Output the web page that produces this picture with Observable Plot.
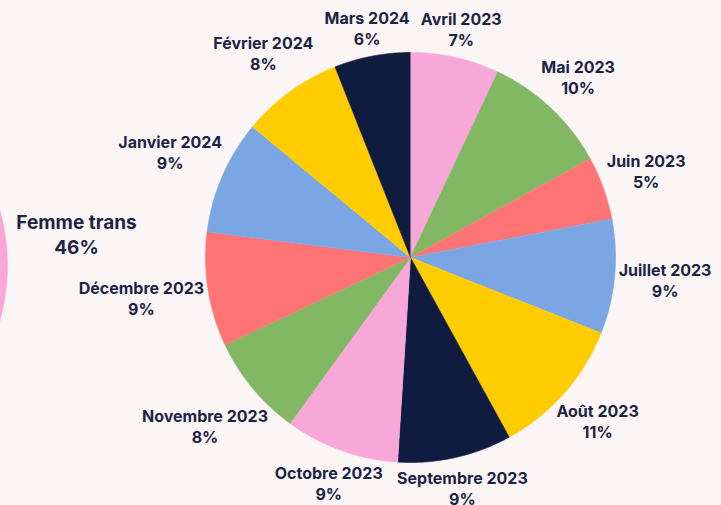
<!DOCTYPE html>
<html>
<head>
<meta charset="utf-8">
<script src="https://cdn.jsdelivr.net/npm/d3@7"></script>
<script src="https://cdn.jsdelivr.net/npm/@observablehq/plot@0.6"></script>
<style>
  html, body { margin: 0; padding: 0; background: #fcf5f5; }
  #chart { width: 721px; height: 505px; overflow: hidden; }
  svg { display: block; }
</style>
</head>
<body>
<div id="chart"></div>
<script>
// ---- data ----
const months = ["Avril 2023", "Mai 2023", "Juin 2023", "Juillet 2023", "Août 2023", "Septembre 2023",
                "Octobre 2023", "Novembre 2023", "Décembre 2023", "Janvier 2024", "Février 2024", "Mars 2024"];
const shares = [7, 10, 5, 9, 11, 9, 9, 8, 9, 9, 8, 6];
const sliceColors = ["#f7a8d8", "#82b763", "#ff7575", "#7ba6e4", "#ffcc00", "#0f1c3f",
                     "#f7a8d8", "#82b763", "#ff7575", "#7ba6e4", "#ffcc00", "#0f1c3f"];
const sideCategory = ["Femme trans"];
const sideShare = [46];
const sideColor = ["#f7a8d8"];

// ---- layout ----
const W = 721, H = 505;
const cx = 410, cy = 257, R = 205;
const textColor = "#1b2444";
const labelFont = "700 16px Inter";

const ctx = document.createElement("canvas").getContext("2d");
ctx.font = labelFont;
const textW = s => ctx.measureText(s).width;

// slices as polygons (center + sampled arc)
const total = d3.sum(shares);
const slicePts = [];
const labels = [];
let acc = 0;
months.forEach((m, i) => {
  const a0 = acc / total * 2 * Math.PI;
  acc += shares[i];
  const a1 = acc / total * 2 * Math.PI;
  slicePts.push({key: m, x: 0, y: 0});
  const n = Math.max(2, Math.ceil((a1 - a0) / (Math.PI / 360)));
  for (let k = 0; k <= n; k++) {
    const a = a0 + (a1 - a0) * k / n;
    slicePts.push({key: m, x: R * Math.sin(a), y: -R * Math.cos(a)});
  }
  const am = (a0 + a1) / 2;
  const s = Math.sin(am), c = Math.cos(am);
  const w = Math.max(textW(m), textW(shares[i] + "%")) / 2;
  const d = 208 + Math.abs(s) * w + Math.abs(c) * 16;
  labels.push({text: m + "\n" + shares[i] + "%", x: d * s, y: -d * c - 2});
});

// side pie (only its right edge shows)
const sideR = 205, sideCx = -198 - cx, sideCy = 8;
const sidePts = [];
for (let k = 0; k <= 720; k++) {
  const a = k / 720 * 2 * Math.PI;
  sidePts.push({key: sideCategory[0], x: sideCx + sideR * Math.sin(a), y: sideCy - sideR * Math.cos(a)});
}
const sideLabel = [{text: sideCategory[0] + "\n" + sideShare[0] + "%", x: sideCx + sideR + 69, y: -24}];

const plot = Plot.plot({
  width: W,
  height: H,
  margin: 0,
  style: {background: "#fcf5f5", fontFamily: "Inter, sans-serif"},
  x: {domain: [-cx, W - cx], range: [0, W], axis: null},
  y: {domain: [-cy, H - cy], range: [0, H], axis: null},
  color: {domain: [...months, ...sideCategory], range: [...sliceColors, ...sideColor]},
  marks: [
    Plot.line(sidePts, {x: "x", y: "y", z: "key", fill: "key", stroke: "key", strokeWidth: 0.5}),
    Plot.line(slicePts, {x: "x", y: "y", z: "key", fill: "key", stroke: "key", strokeWidth: 0.6, curve: "linear"}),
    Plot.text(labels, {x: "x", y: "y", text: "text", fontSize: 16, fontWeight: 700, lineHeight: 1.3, fill: textColor}),
    Plot.text(sideLabel, {x: "x", y: "y", text: "text", fontSize: 19, fontWeight: 700, lineHeight: 1.3, fill: textColor})
  ]
});
document.getElementById("chart").appendChild(plot);
</script>
</body>
</html>
